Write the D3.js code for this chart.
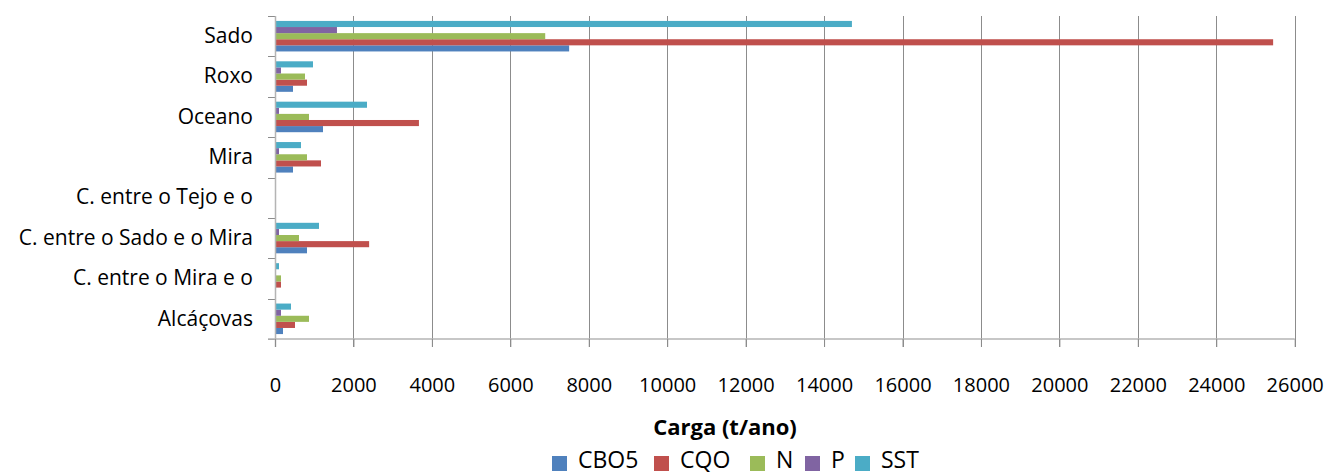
<!DOCTYPE html>
<html>
<head>
<meta charset="utf-8">
<script src="https://cdn.jsdelivr.net/npm/d3@7"></script>
<style>
  html, body { margin: 0; padding: 0; background: #fff; }
  svg { display: block; font-family: "Open Sans", Lato, sans-serif; }
</style>
</head>
<body>
<svg id="chart" width="1327" height="475"></svg>
<script>
// Pollutant loads per basin (t/ano)
const categories = ["Alcáçovas", "C. entre o Mira e o", "C. entre o Sado e o Mira", "C. entre o Tejo e o", "Mira", "Oceano", "Roxo", "Sado"];
const seriesNames = ["CBO5", "CQO", "N", "P", "SST"];
const seriesColors = ["#4F81BD", "#C0504D", "#9BBB59", "#8064A2", "#4BACC6"];
const CBO5 = [204, 0, 816, 0, 459, 1224, 459, 7500];
const CQO  = [510, 153, 2400, 0, 1173, 3670, 816, 25450];
const N    = [867, 153, 612, 0, 816, 867, 765, 6890];
const P    = [153, 0, 102, 0, 102, 102, 153, 1580];
const SST  = [408, 102, 1122, 0, 663, 2346, 969, 14710];
const xTicks = [0, 2000, 4000, 6000, 8000, 10000, 12000, 14000, 16000, 18000, 20000, 22000, 24000, 26000];

const seriesValues = [CBO5, CQO, N, P, SST];

const svg = d3.select("#chart");
const plotTop = 16, plotBottom = 339, plotLeft = 275, plotRight = 1294.7;

const x = d3.scaleLinear().domain([0, 26000]).range([plotLeft, plotRight]);
const y = d3.scaleBand().domain(categories).range([plotBottom, plotTop]).paddingInner(0).paddingOuter(0);
const groupInset = y.bandwidth() * 0.122;
// series stacked bottom-to-top inside each group: CBO5 lowest, SST highest
const ySub = d3.scaleBand().domain(seriesNames.slice().reverse()).range([groupInset, y.bandwidth() - groupInset]);

// vertical gridlines
svg.append("g")
  .selectAll("line")
  .data(xTicks.slice(1))
  .join("line")
  .attr("x1", d => Math.round(x(d)) + 0.5).attr("x2", d => Math.round(x(d)) + 0.5)
  .attr("y1", plotTop).attr("y2", plotBottom + 8)
  .attr("stroke", "#8c8c8c").attr("stroke-width", 1);

// bars
categories.forEach((cat, i) => {
  const g = svg.append("g").attr("transform", `translate(0,${y(cat)})`);
  seriesNames.forEach((s, j) => {
    const v = seriesValues[j][i];
    if (v <= 0) return;
    g.append("rect")
      .attr("x", x(0))
      .attr("y", ySub(s))
      .attr("width", x(v) - x(0))
      .attr("height", ySub.bandwidth())
      .attr("fill", seriesColors[j]);
  });
});

// y axis labels
const yAxis = d3.axisLeft(y).tickSize(0).tickPadding(22);
const yg = svg.append("g").attr("transform", `translate(${x(0)},0)`).call(yAxis);
yg.select(".domain").remove();
yg.selectAll("text").attr("font-size", 21).attr("fill", "#000").attr("font-family", "'Open Sans', sans-serif");
// category boundary ticks
const bounds = categories.map(c => y(c)).concat([plotBottom]);
svg.append("g").selectAll("line").data(bounds).join("line")
  .attr("x1", x(0) - 7).attr("x2", x(0))
  .attr("y1", d => Math.round(d) + 0.5).attr("y2", d => Math.round(d) + 0.5)
  .attr("stroke", "#8c8c8c").attr("stroke-width", 1);
svg.append("line")
  .attr("x1", Math.round(x(0)) + 0.5).attr("x2", Math.round(x(0)) + 0.5)
  .attr("y1", plotTop).attr("y2", plotBottom + 8)
  .attr("stroke", "#b4b4b4").attr("stroke-width", 1.5);

// x axis
const xAxis = d3.axisBottom(x).tickValues(xTicks).tickSize(8).tickFormat(d3.format("d"));
const xg = svg.append("g").attr("transform", `translate(0,${plotBottom})`).call(xAxis);
xg.select(".domain").attr("stroke", "#b4b4b4").attr("stroke-width", 1.5).attr("d", `M${x(0) - 7},0H${x(26000)}`);
xg.selectAll(".tick line").attr("stroke", "#8c8c8c");
xg.selectAll("text")
  .attr("y", 53).attr("dy", null)
  .attr("font-size", 20).attr("fill", "#000").attr("font-family", "'Open Sans', sans-serif");

// axis title
svg.append("text")
  .attr("x", 725).attr("y", 435)
  .attr("text-anchor", "middle")
  .attr("font-size", 22).attr("font-weight", "bold")
  .text("Carga (t/ano)");

// legend
const legendX = [552, 654, 750, 805, 855];
const lg = svg.append("g");
seriesNames.forEach((s, j) => {
  lg.append("rect").attr("x", legendX[j]).attr("y", 456).attr("width", 15).attr("height", 15).attr("fill", seriesColors[j]);
  lg.append("text").attr("x", legendX[j] + 26).attr("y", 468).attr("font-size", 23).text(s);
});
</script>
</body>
</html>
